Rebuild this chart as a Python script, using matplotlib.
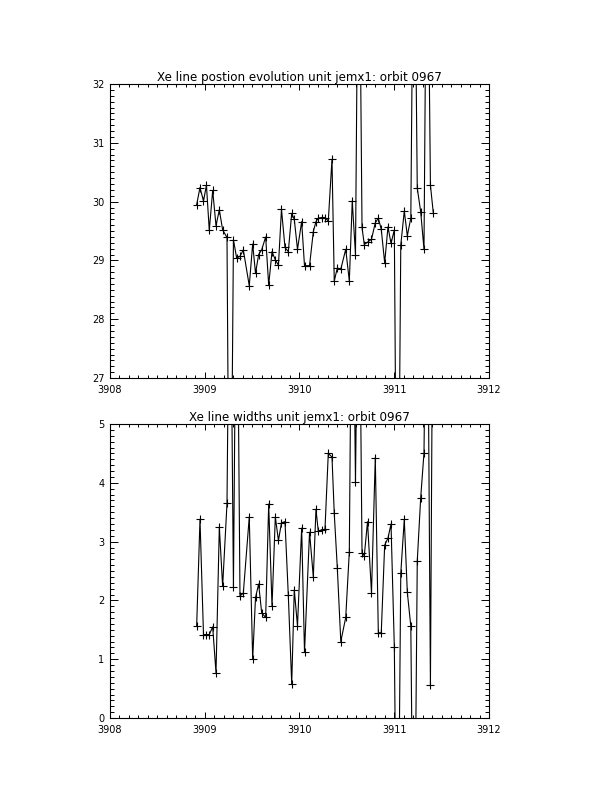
import numpy as np
import matplotlib
matplotlib.use("Agg")
import matplotlib.pyplot as plt
from matplotlib.ticker import MultipleLocator

# time axis (days), shared by both panels
t = [3908.915, 3908.950, 3908.987, 3909.018, 3909.048, 3909.084, 3909.119, 3909.154,
     3909.189, 3909.235, 3909.266, 3909.303, 3909.337, 3909.372, 3909.407, 3909.470,
     3909.506, 3909.536, 3909.569, 3909.601, 3909.643, 3909.675, 3909.710, 3909.745,
     3909.778, 3909.810, 3909.847, 3909.882, 3909.918, 3909.945, 3909.979, 3910.023,
     3910.053, 3910.106, 3910.146, 3910.174, 3910.198, 3910.234, 3910.269, 3910.304,
     3910.343, 3910.367, 3910.399, 3910.436, 3910.488, 3910.526, 3910.557, 3910.591,
     3910.625, 3910.660, 3910.684, 3910.718, 3910.760, 3910.800, 3910.832, 3910.863,
     3910.899, 3910.934, 3910.966, 3911.001, 3911.034, 3911.069, 3911.106, 3911.138,
     3911.175, 3911.208, 3911.243, 3911.279, 3911.314, 3911.346, 3911.382, 3911.412]

# Xe line position (values outside 27..32 run off the frame)
position = [29.95, 30.24, 30.01, 30.28, 29.51, 30.19, 29.59, 29.86,
            29.52, 29.39, 22.0, 29.35, 29.04, 29.07, 29.18, 28.57,
            29.28, 28.78, 29.10, 29.18, 29.40, 28.58, 29.15, 29.01,
            28.92, 29.87, 29.22, 29.15, 29.80, 29.70, 29.19, 29.66,
            28.91, 28.91, 29.49, 29.66, 29.72, 29.73, 29.73, 29.67,
            30.72, 28.65, 28.87, 28.85, 29.19, 28.65, 30.01, 29.10,
            36.0, 29.56, 29.27, 29.31, 29.36, 29.64, 29.72, 29.53,
            28.96, 29.57, 29.29, 29.52, 22.0, 29.26, 29.84, 29.42,
            29.72, 36.0, 30.23, 29.83, 29.19, 36.0, 30.28, 29.81]

# Xe line width (values outside 0..5 run off the frame)
width = [1.57, 3.38, 1.42, 1.42, 1.42, 1.55, 0.77, 3.25,
         2.24, 3.65, 9.0, 2.23, 9.0, 2.08, 2.12, 3.42,
         1.00, 2.05, 2.28, 1.79, 1.71, 3.64, 1.90, 3.42,
         3.02, 3.32, 3.34, 2.09, 0.58, 2.18, 1.57, 3.23,
         1.12, 3.16, 2.40, 3.55, 3.18, 3.20, 3.21, 4.50,
         4.44, 3.48, 2.56, 1.30, 1.71, 2.83, 9.0, 4.01,
         9.0, 2.81, 2.76, 3.34, 2.13, 4.43, 1.45, 1.45,
         2.94, 3.06, 3.30, 1.21, -4.0, 2.46, 3.38, 2.14,
         1.56, -4.0, 2.67, 3.74, 4.51, 9.0, 0.56, 9.0]

plt.rcParams['font.family'] = 'DejaVu Sans'

fig = plt.figure(figsize=(6.12, 7.92), dpi=100)
ax1 = fig.add_axes([0.1797, 0.5227, 0.6193, 0.3712])
ax2 = fig.add_axes([0.1797, 0.0934, 0.6193, 0.3712])


def draw_panel(ax, yvals, ylo, yhi, title):
    ax.plot(t, yvals, color='black', linewidth=0.8, marker='+',
            markersize=6, markeredgewidth=0.8)
    ax.set_xlim(3908, 3912)
    ax.set_ylim(ylo, yhi)
    ax.xaxis.set_major_locator(MultipleLocator(1))
    ax.xaxis.set_minor_locator(MultipleLocator(0.1))
    ax.yaxis.set_major_locator(MultipleLocator(1))
    ax.yaxis.set_minor_locator(MultipleLocator(0.1))
    ax.tick_params(which='both', direction='in', top=True, right=True,
                   width=0.7, color='black', labelsize=7)
    ax.tick_params(axis='x', which='major', length=4.3, pad=5)
    ax.tick_params(axis='x', which='minor', length=2.1)
    ax.tick_params(axis='y', which='major', length=5.5, pad=4)
    ax.tick_params(axis='y', which='minor', length=2.7)
    ax.xaxis.set_major_formatter(plt.FuncFormatter(lambda v, p: f"{v:.0f}"))
    for s in ax.spines.values():
        s.set_linewidth(0.8)
    ax.set_title(title, fontsize=8.6, pad=2)


draw_panel(ax1, position, 27, 32, "Xe line postion evolution unit jemx1: orbit 0967")
draw_panel(ax2, width, 0, 5, "Xe line widths unit jemx1: orbit 0967")

fig.savefig("out.png", dpi=100, facecolor='white')
